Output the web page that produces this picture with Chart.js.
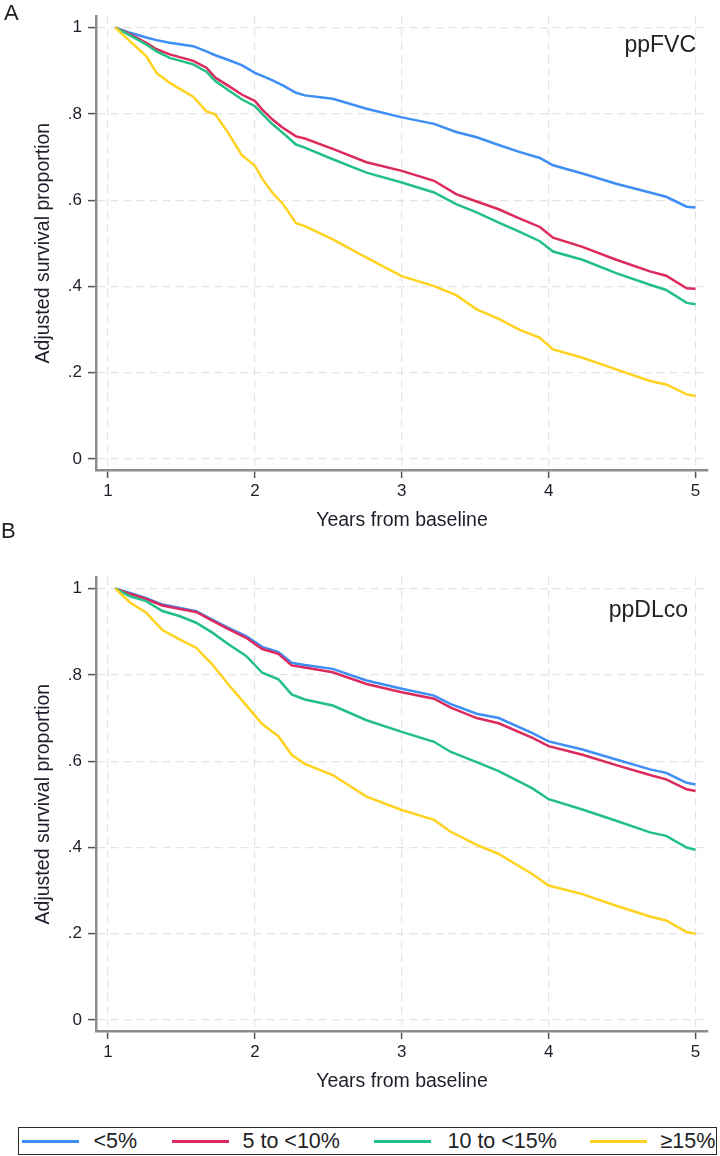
<!DOCTYPE html>
<html><head><meta charset="utf-8">
<script src="https://cdn.jsdelivr.net/npm/chart.js@4.4.0/dist/chart.umd.min.js"></script>
<style>
html,body{margin:0;padding:0;background:#fff;width:720px;height:1156px;overflow:hidden;font-family:"Liberation Sans",Arial,sans-serif;}
.wrap{position:absolute;left:0;width:720px;height:548px;}
.lbl{position:absolute;color:#222;white-space:nowrap;line-height:1;}
#legend{position:absolute;left:18px;top:1127px;width:697px;height:26px;border:1.5px solid #2a2a2a;}
.sw{position:absolute;top:12px;height:2.5px;width:57px;}
.lt{position:absolute;top:2.5px;font-size:21.5px;line-height:1;color:#222;white-space:nowrap;}
</style></head><body>
<div class="wrap" style="top:0"><canvas id="cA" width="720" height="548"></canvas></div>
<div class="wrap" style="top:561px"><canvas id="cB" width="720" height="548"></canvas></div>
<div class="lbl" style="left:4px;top:2px;font-size:22px;">A</div>
<div class="lbl" style="right:24px;top:33px;font-size:23px;">ppFVC</div>
<div class="lbl" style="left:1px;top:520px;font-size:22px;">B</div>
<div class="lbl" style="right:32px;top:598px;font-size:23px;">ppDLco</div>
<div id="legend"></div>
<script>
// ---- data ----
const seriesLabels = ['<5%', '5 to <10%', '10 to <15%', '\u226515%'];
const seriesColors = ['#3d8ef5', '#dc2a5c', '#22bf86', '#ffd21f'];
const xTicks = [1, 2, 3, 4, 5];
const yTicks = [0, 0.2, 0.4, 0.6, 0.8, 1];
const yTickLabels = ['0', '.2', '.4', '.6', '.8', '1'];
const xTitle = 'Years from baseline';
const yTitle = 'Adjusted survival proportion';

// Panel A: ppFVC
const yearsA = [1.05,1.15,1.26,1.33,1.42,1.58,1.67,1.73,1.82,1.91,2.0,2.05,2.12,2.19,2.28,2.34,2.53,2.76,3.0,3.22,3.37,3.51,3.66,3.8,3.94,4.03,4.23,4.46,4.69,4.8,4.94,5.0];
const fvcLt5 =   [1.0,0.988,0.977,0.971,0.965,0.957,0.945,0.936,0.925,0.913,0.895,0.888,0.878,0.866,0.849,0.843,0.835,0.812,0.792,0.777,0.758,0.746,0.728,0.712,0.698,0.681,0.662,0.638,0.618,0.608,0.585,0.583];
const fvc5to10 = [1.0,0.985,0.965,0.950,0.938,0.923,0.907,0.884,0.865,0.845,0.830,0.810,0.787,0.768,0.748,0.743,0.719,0.688,0.668,0.645,0.614,0.597,0.579,0.558,0.538,0.513,0.492,0.462,0.435,0.425,0.396,0.395];
const fvc10to15 =[1.0,0.982,0.961,0.945,0.930,0.915,0.898,0.876,0.855,0.834,0.818,0.800,0.776,0.756,0.729,0.722,0.695,0.664,0.641,0.618,0.591,0.572,0.548,0.527,0.505,0.481,0.462,0.431,0.404,0.392,0.362,0.359];
const fvcGe15 =  [1.0,0.968,0.934,0.895,0.872,0.840,0.806,0.799,0.755,0.705,0.680,0.650,0.617,0.592,0.547,0.540,0.509,0.467,0.424,0.401,0.380,0.347,0.325,0.300,0.281,0.254,0.235,0.208,0.181,0.173,0.150,0.146];

// Panel B: ppDLco
const yearsB = [1.05,1.15,1.26,1.37,1.49,1.6,1.71,1.82,1.94,2.05,2.16,2.25,2.34,2.53,2.76,3.0,3.22,3.33,3.51,3.66,3.89,4.0,4.23,4.46,4.69,4.8,4.94,5.0];
const dlLt5 =    [1.0,0.990,0.978,0.963,0.955,0.948,0.928,0.909,0.890,0.865,0.853,0.828,0.823,0.814,0.787,0.768,0.752,0.733,0.710,0.700,0.665,0.646,0.627,0.604,0.581,0.573,0.550,0.546];
const dl5to10 =  [1.0,0.988,0.976,0.961,0.953,0.946,0.926,0.906,0.886,0.860,0.849,0.822,0.817,0.806,0.779,0.760,0.745,0.725,0.700,0.688,0.654,0.635,0.615,0.591,0.568,0.558,0.535,0.531];
const dl10to15 = [1.0,0.982,0.971,0.948,0.936,0.921,0.898,0.871,0.844,0.805,0.790,0.755,0.743,0.729,0.695,0.668,0.645,0.622,0.598,0.577,0.537,0.512,0.488,0.462,0.435,0.427,0.400,0.395];
const dlGe15 =   [1.0,0.968,0.944,0.904,0.882,0.863,0.824,0.778,0.730,0.686,0.658,0.615,0.594,0.568,0.518,0.487,0.464,0.437,0.406,0.385,0.338,0.312,0.292,0.265,0.240,0.231,0.204,0.200];

// ---- build ----
const FONT = '"Liberation Sans", Arial, sans-serif';
function pts(xs, ys){ return xs.map((x,i)=>({x:x, y:ys[i]})); }
function makeChart(id, years, series){
  const datasets = series.map((s,i)=>({
    label: seriesLabels[i], data: pts(years, s), borderColor: seriesColors[i],
    borderWidth: 2.5, pointRadius: 0, tension: 0, fill: false
  })).reverse();
  return new Chart(document.getElementById(id), {
    type: 'line',
    data: { datasets },
    options: {
      responsive: false, animation: false, devicePixelRatio: 1,
      layout: { padding: { top: 13, right: 12, left: 0, bottom: 0 } },
      plugins: { legend: { display: false }, tooltip: { enabled: false } },
      scales: {
        x: {
          type: 'linear', min: 0.918, max: 5.085,
          afterBuildTicks: s => { s.ticks = xTicks.map(v => ({ value: v })); },
          afterFit: s => { s.height = 78; },
          ticks: { callback: v => String(v), font: { family: FONT, size: 17 }, color: '#1e1e2a', padding: 3, maxRotation: 0, autoSkip: false },
          grid: { color: '#e4e4e4', lineWidth: 1.2, tickLength: 8, tickColor: '#555', tickWidth: 1.5, tickBorderDash: [] },
          border: { color: '#8c8c8c', width: 2.5, dash: [8, 5] },
          title: { display: true, text: xTitle, font: { family: FONT, size: 19.5 }, color: '#1e1e2a', padding: { top: 0, bottom: 16 } }
        },
        y: {
          type: 'linear', min: -0.0253, max: 1.0265,
          afterBuildTicks: s => { s.ticks = yTicks.map(v => ({ value: v })); },
          afterFit: s => { s.width = 96; },
          ticks: { callback: (v) => { const i = yTicks.indexOf(v); return i >= 0 ? yTickLabels[i] : ''; }, font: { family: FONT, size: 17 }, color: '#1e1e2a', padding: 6, autoSkip: false },
          grid: { color: '#e4e4e4', lineWidth: 1.2, tickLength: 8, tickColor: '#555', tickWidth: 1.5, tickBorderDash: [] },
          border: { color: '#8c8c8c', width: 2.5, dash: [8, 5] },
          title: { display: true, text: yTitle, font: { family: FONT, size: 19.5 }, color: '#1e1e2a', padding: { top: 32, bottom: 0 } }
        }
      }
    }
  });
}
makeChart('cA', yearsA, [fvcLt5, fvc5to10, fvc10to15, fvcGe15]);
makeChart('cB', yearsB, [dlLt5, dl5to10, dl10to15, dlGe15]);

// legend (HTML, real text)
const lg = document.getElementById('legend');
const swLeft = [2.5, 152.5, 354.5, 570.5];
const txLeft = [74.5, 223.5, 428.5, 641.5];
seriesLabels.forEach((t,i)=>{
  const sw = document.createElement('div'); sw.className='sw'; sw.style.left = swLeft[i]+'px'; sw.style.background = seriesColors[i]; lg.appendChild(sw);
  const tx = document.createElement('div'); tx.className='lt'; tx.style.left = txLeft[i]+'px'; tx.textContent = t; lg.appendChild(tx);
});
</script>
</body></html>
